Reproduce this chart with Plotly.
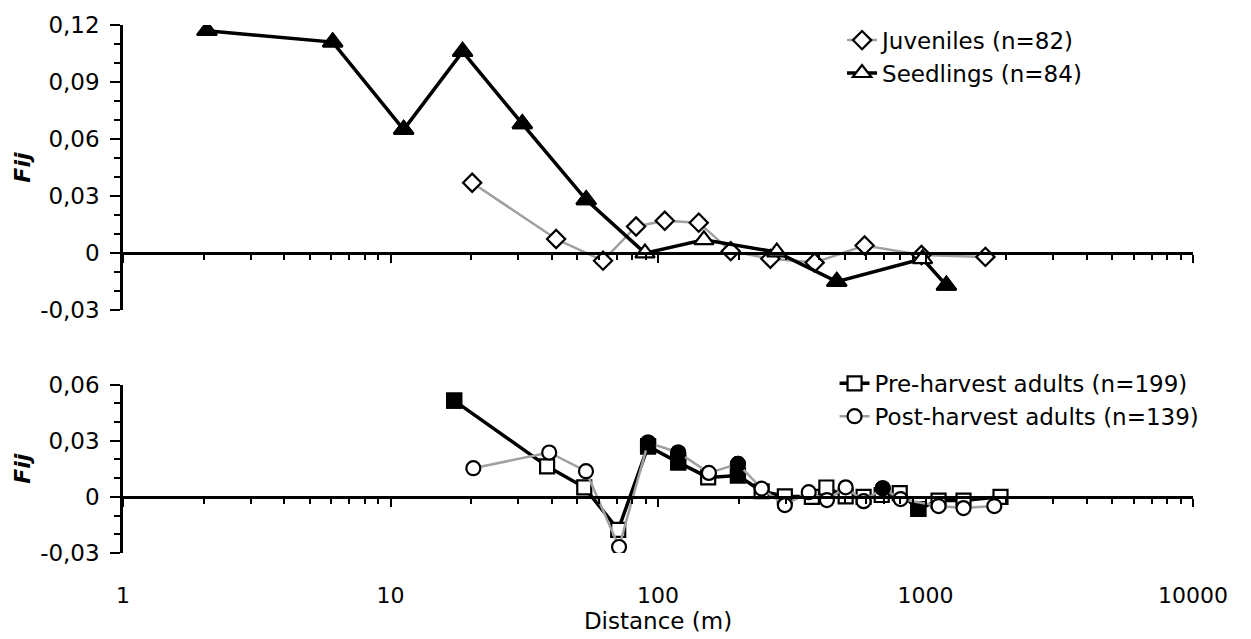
import plotly.graph_objects as go

# ---------------- data ----------------
seed_dist = [2.06, 6.08, 11.2, 18.6, 31.1, 53.9, 89.4, 148.5, 278, 466, 975, 1197]
seed_fij = [0.117, 0.111, 0.065, 0.106, 0.068, 0.028, 0.000, 0.007, 0.0005, -0.015, -0.003, -0.017]
seed_sig = [1, 1, 1, 1, 1, 1, 0, 0, 0, 1, 0, 1]

juv_dist = [20.2, 41.6, 62.3, 82.8, 106, 142, 187, 263, 385, 592, 966, 1675]
juv_fij = [0.037, 0.0074, -0.004, 0.014, 0.017, 0.016, 0.001, -0.003, -0.005, 0.004, -0.001, -0.002]

pre_dist = [17.3, 38.5, 53, 71, 91.8, 119, 154, 199, 244, 298, 376, 426, 503, 587, 686, 801,
            940, 1119, 1387, 1907]
pre_fij = [0.0514, 0.0163, 0.0051, -0.0176, 0.027, 0.0184, 0.0104, 0.0114, 0.003, 0.0003, 0.0,
           0.005, 0.0003, 0.0, 0.001, 0.002, -0.0065, -0.002, -0.002, 0.0]
pre_sig = [1, 0, 0, 0, 1, 1, 0, 1, 0, 0, 0, 0, 0, 0, 0, 0, 1, 0, 0, 0]

post_dist = [20.4, 39.2, 53.8, 71.5, 91.8, 119, 155, 199, 244, 298, 366, 428, 503, 587, 692, 807,
             1119, 1387, 1808]
post_fij = [0.0153, 0.0237, 0.0137, -0.0268, 0.029, 0.0237, 0.0128, 0.0176, 0.0044, -0.0044,
            0.0025, -0.0017, 0.0051, -0.0023, 0.0046, -0.0012, -0.0049, -0.006, -0.0049]
post_sig = [0, 0, 0, 0, 1, 1, 0, 1, 0, 0, 0, 0, 0, 0, 1, 0, 0, 0, 0]

x_tickvals = [1, 10, 100, 1000, 10000]
x_ticktext = ["1", "10", "100", "1000", "10000"]
top_tickvals = [-0.03, 0, 0.03, 0.06, 0.09, 0.12]
top_ticktext = ["-0,03", "0", "0,03", "0,06", "0,09", "0,12"]
bot_tickvals = [-0.03, 0, 0.03, 0.06]
bot_ticktext = ["-0,03", "0", "0,03", "0,06"]

names = ["Juveniles (n=82)", "Seedlings (n=84)",
         "Pre-harvest adults (n=199)", "Post-harvest adults (n=139)"]

# ---------------- layout geometry ----------------
W, H = 1251, 639
ML, MR, MT, MB = 123, 58, 19, 86
top_dom = [0.4600, 1.0]
bot_dom = [0.0, 0.3190]
top_rng = [-0.03, 0.12]
bot_rng = [-0.03, 0.06]


def zero_pos(dom, rng):
    return dom[0] + (0 - rng[0]) / (rng[1] - rng[0]) * (dom[1] - dom[0])


FONT = "DejaVu Sans, Verdana, sans-serif"
GRAY = "#a0a0a0"

fig = go.Figure()


def sel(xs, ys, flags):
    return ([x for x, f in zip(xs, flags) if f], [y for y, f in zip(ys, flags) if f])


# top panel
fig.add_trace(go.Scatter(x=juv_dist, y=juv_fij, name=names[0], mode="lines+markers",
                         line=dict(color=GRAY, width=2.5),
                         marker=dict(symbol="diamond", size=14, color="white",
                                     line=dict(color="black", width=2.2)),
                         xaxis="x", yaxis="y", legend="legend"))
fig.add_trace(go.Scatter(x=seed_dist, y=seed_fij, name=names[1], mode="lines+markers",
                         line=dict(color="black", width=3.5),
                         marker=dict(symbol="triangle-up", size=17, color="white",
                                     line=dict(color="black", width=2.2)),
                         xaxis="x", yaxis="y", legend="legend"))
sx, sy = sel(seed_dist, seed_fij, seed_sig)
fig.add_trace(go.Scatter(x=sx, y=sy, mode="markers", showlegend=False,
                         marker=dict(symbol="triangle-up", size=17, color="black",
                                     line=dict(color="black", width=2.2)),
                         xaxis="x", yaxis="y"))

# bottom panel
fig.add_trace(go.Scatter(x=pre_dist, y=pre_fij, name=names[2], mode="lines+markers",
                         line=dict(color="black", width=3.5),
                         marker=dict(symbol="square", size=14, color="white",
                                     line=dict(color="black", width=2.2)),
                         xaxis="x2", yaxis="y2", legend="legend2"))
px_, py_ = sel(pre_dist, pre_fij, pre_sig)
fig.add_trace(go.Scatter(x=px_, y=py_, mode="markers", showlegend=False,
                         marker=dict(symbol="square", size=14, color="black",
                                     line=dict(color="black", width=2.2)),
                         xaxis="x2", yaxis="y2"))
fig.add_trace(go.Scatter(x=post_dist, y=post_fij, name=names[3], mode="lines+markers",
                         line=dict(color=GRAY, width=2.5),
                         marker=dict(symbol="circle", size=14, color="white",
                                     line=dict(color="black", width=2.2)),
                         xaxis="x2", yaxis="y2", legend="legend2"))
qx, qy = sel(post_dist, post_fij, post_sig)
fig.add_trace(go.Scatter(x=qx, y=qy, mode="markers", showlegend=False,
                         marker=dict(symbol="circle", size=14, color="black",
                                     line=dict(color="black", width=2.2)),
                         xaxis="x2", yaxis="y2"))

minor_x = [m * 10 ** d for d in range(4) for m in range(2, 10)]

xcommon = dict(type="log", range=[0, 4], domain=[0, 1], showgrid=False, zeroline=False,
               showline=True, linecolor="black", linewidth=2.5,
               ticks="outside", ticklen=8, tickwidth=2, tickcolor="black",
               tickmode="array", tickvals=x_tickvals, ticktext=x_ticktext,
               minor=dict(tickmode="array", tickvals=minor_x, ticks="outside",
                          ticklen=5, tickwidth=2, tickcolor="black", showgrid=False),
               anchor="free", tickfont=dict(family=FONT, size=22, color="black"))

ycommon = dict(showgrid=False, zeroline=False, showline=True, linecolor="black",
               linewidth=2.5, ticks="outside", ticklen=10, tickwidth=2, tickcolor="black",
               tickmode="array",
               minor=dict(dtick=0.01, tick0=0, ticks="outside", ticklen=6, tickwidth=2,
                          tickcolor="black", showgrid=False),
               tickfont=dict(family=FONT, size=23, color="black"),
               ticklabelstandoff=6)

fig.update_layout(
    width=W, height=H,
    margin=dict(l=ML, r=MR, t=MT, b=MB),
    paper_bgcolor="white", plot_bgcolor="white",
    font=dict(family=FONT, color="black"),
    xaxis=dict(xcommon, position=zero_pos(top_dom, top_rng), showticklabels=False),
    xaxis2=dict(xcommon, position=zero_pos(bot_dom, bot_rng), showticklabels=True,
                ticklabelstandoff=70,
                title=dict(text="Distance (m)", font=dict(family=FONT, size=23, color="black"),
                           standoff=0)),
    yaxis=dict(ycommon, domain=top_dom, range=top_rng, anchor="x",
               tickvals=top_tickvals, ticktext=top_ticktext,
               title=dict(text="<b><i>Fij</i></b>", font=dict(family=FONT, size=22),
                          standoff=4)),
    yaxis2=dict(ycommon, domain=bot_dom, range=bot_rng, anchor="x2",
                tickvals=bot_tickvals, ticktext=bot_ticktext,
                title=dict(text="<b><i>Fij</i></b>", font=dict(family=FONT, size=22),
                           standoff=4)),
    legend=dict(x=0.672, y=1.012, xanchor="left", yanchor="top", bgcolor="rgba(0,0,0,0)",
                font=dict(family=FONT, size=23, color="black"), tracegroupgap=0,
                itemwidth=30),
    legend2=dict(x=0.665, y=0.362, xanchor="left", yanchor="top", bgcolor="rgba(0,0,0,0)",
                 font=dict(family=FONT, size=23, color="black"), tracegroupgap=0,
                 itemwidth=30),
    showlegend=True,
)

fig.write_html("out.html")
